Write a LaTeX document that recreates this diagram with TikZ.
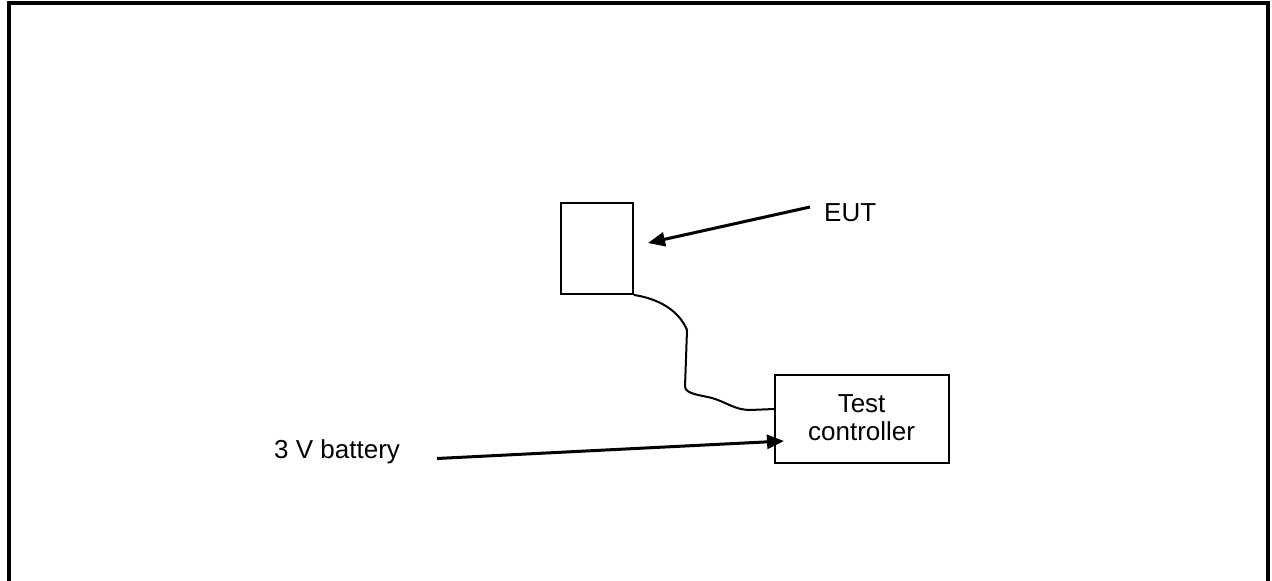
\documentclass[tikz,border=0pt]{standalone}
\usepackage{fontspec}
\setmainfont{Liberation Sans}
\usetikzlibrary{arrows.meta}

\tikzset{
  box/.style={draw, line width=2pt, rectangle, inner sep=0pt},
  label/.style={inner sep=0pt, font=\fontsize{26}{28.5}\selectfont},
  pointer/.style={line width=3pt, -{Triangle[length=17pt,width=14pt]}},
  wire/.style={line width=2pt, line join=round},
}

\begin{document}
\begin{tikzpicture}[x=1pt, y=-1pt]
  \useasboundingbox (0,0) rectangle (1272,581);

  % outer frame (open at the bottom edge of the page)
  \draw[line width=4pt] (8.8,590) -- (8.8,3.3) -- (1268,3.3) -- (1268,590);

  % equipment under test
  \node[box, minimum width=72pt, minimum height=91pt] (eut) at (596.7,248.4) {};
  \node[label, anchor=base west] (eutlbl) at (824,221) {EUT};
  \coordinate (euttail) at (810,207);
  \coordinate (euttip) at (648,243);
  \draw[pointer] (euttail) -- (euttip);

  % test controller
  \node[box, minimum width=174pt, minimum height=88pt, align=center,
        font=\fontsize{26}{28.5}\selectfont] (tc) at (861.6,419)
        {\raisebox{2.5pt}{Test}\\\raisebox{2.5pt}{controller}};

  % cable between EUT and controller
  \coordinate (tcin) at (774,409);
  \draw[wire] (eut.south east)
      .. controls (660,299) and (679,311) .. (687,330)
      -- (685,387)
      .. controls (686,394) and (700,395) .. (712,398)
      .. controls (726,402) and (735,410) .. (750,410)
      -- (tcin);

  % supply
  \node[label, anchor=base west] (batlbl) at (274,458) {3 V battery};
  \coordinate (battail) at (437,458.5);
  \coordinate (battip) at (784,441);
  \draw[pointer] (battail) -- (battip);
\end{tikzpicture}
\end{document}
